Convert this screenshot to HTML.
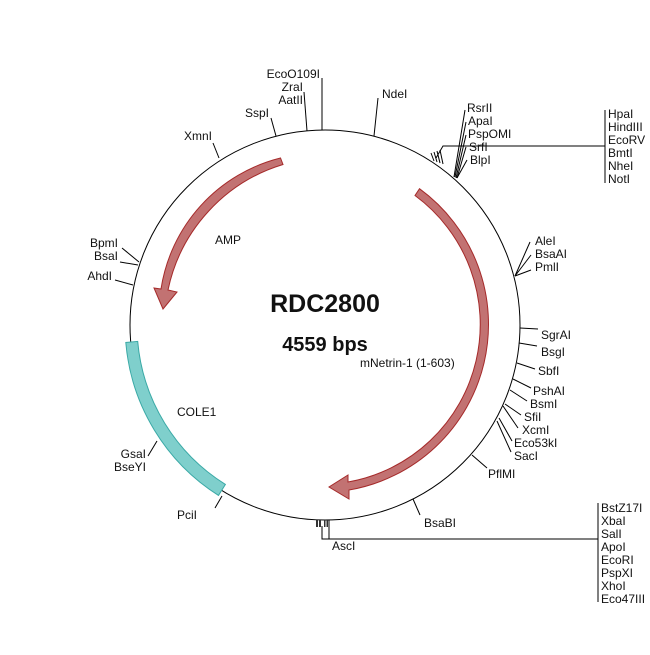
<!DOCTYPE html>
<html><head><meta charset="utf-8"><style>
html,body{margin:0;padding:0;background:#fff}
svg text{font-family:"Liberation Sans",sans-serif;font-size:12px;fill:#111}
</style></head><body>
<svg width="650" height="650" viewBox="0 0 650 650" xmlns="http://www.w3.org/2000/svg">
<rect width="650" height="650" fill="#fff"/>
<circle cx="325" cy="325" r="195" fill="none" stroke="#000" stroke-width="1"/>
<!-- COLE1 -->
<path d="M125.8,342.5 A201,201 0 0 0 218.5,495.4 L225.4,484.4 A188,188 0 0 1 137.7,341.4 Z" fill="#7fcfcc" stroke="#3aa9a6" stroke-width="1"/>
<!-- mNetrin arrow -->
<path d="M419.5,188.7 A168,168 0 0 1 349,490 L349,499 L329,487 L348,475 L348,482 A160,160 0 0 0 415,195.5 Z" fill="#c27272" stroke="#a52a2a" stroke-width="1"/>
<!-- AMP arrow -->
<path d="M283,164.5 A167,167 0 0 0 168,290 L177,292 L163,309 L154,288 L161,289 A160,160 0 0 1 280.5,158 Z" fill="#c27272" stroke="#a52a2a" stroke-width="1"/>
<text x="325" y="312" text-anchor="middle" style="font-size:25px;font-weight:bold">RDC2800</text>
<text x="325" y="351" text-anchor="middle" style="font-size:20px;font-weight:bold">4559 bps</text>
<text x="360" y="367" style="font-size:12px">mNetrin-1 (1-603)</text>
<text x="215" y="244">AMP</text>
<text x="177" y="416">COLE1</text>
<g stroke="#000" stroke-width="1" fill="none">
<line x1="322" y1="78" x2="322" y2="130"/>
<line x1="304" y1="92" x2="307" y2="131"/>
<line x1="271" y1="118" x2="276" y2="136"/>
<line x1="378" y1="98" x2="374" y2="136"/>
<line x1="465" y1="110" x2="454" y2="177"/>
<line x1="466" y1="122" x2="455" y2="177"/>
<line x1="466" y1="135" x2="456" y2="178"/>
<line x1="466" y1="147" x2="457" y2="178"/>
<line x1="467" y1="160" x2="457" y2="178"/>
<polyline points="605,146 443,146 436,158"/>
<line x1="431" y1="153" x2="434" y2="161"/>
<line x1="434" y1="152" x2="437" y2="162"/>
<line x1="437" y1="151" x2="440" y2="163"/>
<line x1="440" y1="150" x2="443" y2="164"/>
<line x1="605" y1="110" x2="605" y2="183"/>
<line x1="219" y1="158" x2="213" y2="143"/>
<line x1="122" y1="248" x2="139" y2="262"/>
<line x1="120" y1="262" x2="138" y2="265"/>
<line x1="115" y1="280" x2="133" y2="285"/>
<line x1="148" y1="456" x2="157" y2="441"/>
<line x1="215" y1="508" x2="222" y2="496"/>
<line x1="515" y1="276" x2="530" y2="242"/>
<line x1="515" y1="276" x2="531" y2="255"/>
<line x1="515" y1="276" x2="531" y2="270"/>
<line x1="520" y1="328" x2="538" y2="329"/>
<line x1="519" y1="343" x2="537" y2="346"/>
<line x1="517" y1="363" x2="535" y2="369"/>
<line x1="513" y1="379" x2="531" y2="388"/>
<line x1="510" y1="390" x2="527" y2="401"/>
<line x1="505" y1="404" x2="521" y2="415"/>
<line x1="503" y1="406" x2="518" y2="428"/>
<line x1="499" y1="418" x2="512" y2="441"/>
<line x1="497" y1="421" x2="511" y2="452"/>
<line x1="472" y1="455" x2="487" y2="468"/>
<line x1="413" y1="499" x2="420" y2="515"/>
<polyline points="598,539 322,539 322,526"/>
<line x1="329" y1="539" x2="329" y2="520"/>
<line x1="598" y1="503" x2="598" y2="602"/>
</g>
<g fill="#333">
<rect x="316" y="520" width="2" height="7"/>
<rect x="319" y="520" width="2" height="7"/>
<rect x="324" y="520" width="1.5" height="7"/>
<rect x="326.5" y="520" width="1.5" height="7"/>
</g>
<text x="320" y="78" text-anchor="end">EcoO109I</text>
<text x="303" y="91" text-anchor="end">ZraI</text>
<text x="303" y="104" text-anchor="end">AatII</text>
<text x="269" y="117" text-anchor="end">SspI</text>
<text x="382" y="98">NdeI</text>
<text x="467" y="112">RsrII</text>
<text x="468" y="125">ApaI</text>
<text x="468" y="138">PspOMI</text>
<text x="469" y="151">SrfI</text>
<text x="470" y="164">BlpI</text>
<text x="608" y="118">HpaI</text>
<text x="608" y="131">HindIII</text>
<text x="608" y="144">EcoRV</text>
<text x="608" y="157">BmtI</text>
<text x="608" y="170">NheI</text>
<text x="608" y="183">NotI</text>
<text x="212" y="140" text-anchor="end">XmnI</text>
<text x="118" y="247" text-anchor="end">BpmI</text>
<text x="118" y="260" text-anchor="end">BsaI</text>
<text x="112" y="280" text-anchor="end">AhdI</text>
<text x="146" y="458" text-anchor="end">GsaI</text>
<text x="146" y="471" text-anchor="end">BseYI</text>
<text x="177" y="519">PciI</text>
<text x="535" y="245">AleI</text>
<text x="535" y="258">BsaAI</text>
<text x="535" y="271">PmlI</text>
<text x="541" y="339">SgrAI</text>
<text x="541" y="356">BsgI</text>
<text x="538" y="375">SbfI</text>
<text x="533" y="395">PshAI</text>
<text x="530" y="408">BsmI</text>
<text x="524" y="421">SfiI</text>
<text x="522" y="434">XcmI</text>
<text x="514" y="447">Eco53kI</text>
<text x="514" y="460">SacI</text>
<text x="488" y="478">PflMI</text>
<text x="424" y="527">BsaBI</text>
<text x="332" y="550">AscI</text>
<text x="601" y="512">BstZ17I</text>
<text x="601" y="525">XbaI</text>
<text x="601" y="538">SalI</text>
<text x="601" y="551">ApoI</text>
<text x="601" y="564">EcoRI</text>
<text x="601" y="577">PspXI</text>
<text x="601" y="590">XhoI</text>
<text x="601" y="603">Eco47III</text>
</svg>
</body></html>
